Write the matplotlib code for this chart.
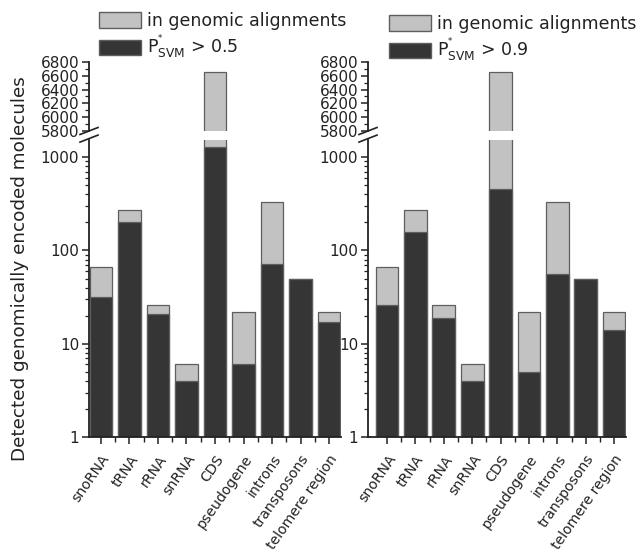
import matplotlib
matplotlib.use("Agg")
import matplotlib.pyplot as plt
import matplotlib.ticker as mticker
from matplotlib.patches import Patch
import numpy as np

categories = ["snoRNA", "tRNA", "rRNA", "snRNA", "CDS", "pseudogene",
              "introns", "transposons", "telomere region"]
genomic = [67, 271, 26, 6, 6650, 22, 330, 49, 22]
svm_05 = [32, 200, 21, 4, 1280, 6, 71, 49, 17]
svm_09 = [26, 157, 19, 4, 453, 5, 56, 49, 14]
thresholds = ["0.5", "0.9"]

LIGHT = "#c2c2c2"
DARK = "#353535"
EDGE = "#5e5e5e"
TXT = "#222222"

W, H = 637, 558
fig = plt.figure(figsize=(W / 100, H / 100), dpi=100)
plt.rcParams["font.family"] = ["DejaVu Sans"]

panels = [
    dict(x0=89, x1=341, xlim=(-0.42, 8.42), dark=svm_05, thr=thresholds[0], leg=(99, 12)),
    dict(x0=368, x1=626, xlim=(-0.67, 8.42), dark=svm_09, thr=thresholds[1], leg=(389, 15)),
]

x = np.arange(len(categories))
for p in panels:
    axb = fig.add_axes([p["x0"] / W, 1 - 437 / H, (p["x1"] - p["x0"]) / W, 297 / H])
    axt = fig.add_axes([p["x0"] / W, 1 - 131 / H, (p["x1"] - p["x0"]) / W, 69 / H])
    axb.set_yscale("log")
    for ax in (axb, axt):
        ax.bar(x, genomic, width=0.8, color=LIGHT, edgecolor=EDGE, linewidth=0.9)
        ax.bar(x, p["dark"], width=0.8, color=DARK, edgecolor=EDGE, linewidth=0.9)
        ax.set_xlim(*p["xlim"])
        for s in ("top", "right"):
            ax.spines[s].set_visible(False)
        ax.spines["left"].set_linewidth(1.3)
        ax.spines["left"].set_color(TXT)
        ax.tick_params(axis="y", direction="out", labelsize=11, colors=TXT,
                       length=5, width=1.1, pad=2)
        ax.tick_params(axis="y", which="minor", direction="out", length=3, width=0.9,
                       colors=TXT)
    axb.set_ylim(1, 1530)
    axt.set_ylim(5800, 6800)
    axt.spines["bottom"].set_visible(False)
    axt.set_xticks([])
    axt.yaxis.set_major_locator(mticker.MultipleLocator(200))
    axt.yaxis.set_minor_locator(mticker.MultipleLocator(100))
    axb.yaxis.set_major_locator(mticker.FixedLocator([1, 10, 100, 1000]))
    axb.yaxis.set_major_formatter(mticker.FixedFormatter(["1", "10", "100", "1000"]))
    axb.yaxis.set_minor_locator(mticker.LogLocator(base=10, subs=np.arange(2, 10)))
    axb.yaxis.set_minor_formatter(mticker.NullFormatter())
    axb.spines["bottom"].set_linewidth(1.3)
    axb.spines["bottom"].set_color(TXT)
    axb.set_xticks(x)
    axb.set_xticks(x[:-1] + 0.5, minor=True)
    axb.tick_params(axis="x", which="major", direction="out", length=5, width=1.1,
                    colors=TXT, pad=6)
    axb.tick_params(axis="x", which="minor", direction="out", length=3.5, width=1.0,
                    colors=TXT)
    axb.set_xticklabels(categories, rotation=55, ha="right", rotation_mode="anchor",
                        fontsize=10.1, color=TXT)

    # break marks
    for ax, yy in ((axt, 0.0), (axb, 1.0)):
        tr = ax.transAxes
        hh = 7 / (69 if ax is axt else 297)
        ww = 9 / (p["x1"] - p["x0"])
        lo, hi = (0.5, 0.5) if ax is axt else (0.3, 0.7)
        ax.plot([-ww, ww], [yy - hh * lo, yy + hh * hi],
                transform=tr, color=TXT, lw=1.2, clip_on=False)

    handles = [Patch(facecolor=LIGHT, edgecolor=EDGE, linewidth=1.0),
               Patch(facecolor=DARK, edgecolor=EDGE, linewidth=1.0)]
    labels = ["in genomic alignments",
              r"P$^{^{*}}_{\mathrm{SVM}}$ > " + p["thr"]]
    fig.legend(handles, labels, loc="upper left",
               bbox_to_anchor=(p["leg"][0] / W, 1 - p["leg"][1] / H),
               frameon=False, fontsize=12.5, handlelength=2.4, handleheight=1.0,
               handletextpad=0.35, labelspacing=0.15, borderpad=0, borderaxespad=0,
               labelcolor=TXT)

fig.text(20 / W, 1 - 269 / H, "Detected genomically encoded molecules",
         rotation=90, ha="center", va="center", fontsize=13.2, color=TXT)

fig.savefig("out.png", dpi=100)
